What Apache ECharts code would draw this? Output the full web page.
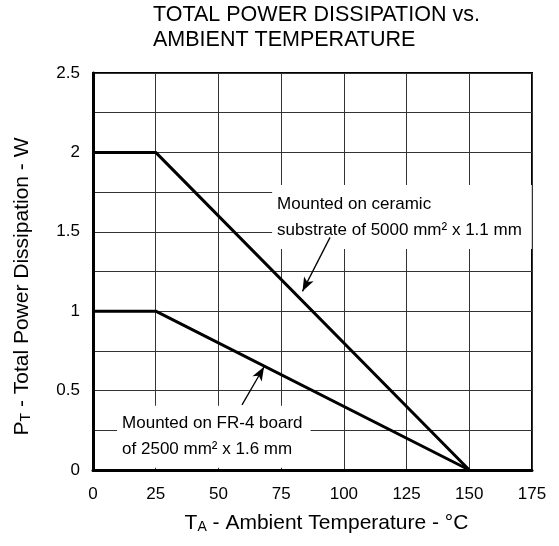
<!DOCTYPE html>
<html>
<head>
<meta charset="utf-8">
<script src="https://cdn.jsdelivr.net/npm/echarts@6/dist/echarts.min.js"></script>
<style>
html,body{margin:0;padding:0;background:#fff;}
#chart{width:559px;height:546px;}
</style>
</head>
<body>
<div id="chart"></div>
<script>
// ---- data ----
const temps = [0, 25, 150];
const ceramicPower = [2, 2, 0];
const fr4Power = [1, 1, 0];
const xTickValues = [0, 25, 50, 75, 100, 125, 150, 175];
const yTickLabels = ['0', '0.5', '1', '1.5', '2', '2.5'];

const titleLines = ['TOTAL POWER DISSIPATION vs.', 'AMBIENT TEMPERATURE'];
const ceramicNote = ['Mounted on ceramic', 'substrate of 5000 mm² x 1.1 mm'];
const fr4Note = ['Mounted on FR-4 board', 'of 2500 mm² x 1.6 mm'];

// annotation anchors (data units)
const ceramicNoteAt = [71.4, 1.593];
const fr4NoteAt = [9.6, 0.21];
const ceramicArrow = [[94.5, 1.465], [83.5, 1.125]];
const fr4Arrow = [[59.4, 0.41], [68.2, 0.65]];

const FONT = '"Liberation Sans", Arial, Helvetica, sans-serif';

const chart = echarts.init(document.getElementById('chart'), null, {renderer: 'canvas'});

function pairs(xs, ys) { return xs.map((x, i) => [x, ys[i]]); }

const noteLabel = (lines, pad) => ({
  show: true,
  position: [0, 0],
  align: 'left',
  verticalAlign: 'middle',
  formatter: lines.join('\n'),
  fontFamily: FONT,
  fontSize: 17,
  lineHeight: 26,
  color: '#000',
  backgroundColor: '#fff',
  padding: pad
});

const option = {
  backgroundColor: '#fff',
  animation: false,
  title: {
    text: titleLines.join('\n'),
    left: 153,
    top: 3,
    padding: 0,
    textStyle: {fontFamily: FONT, fontSize: 21.5, lineHeight: 25, fontWeight: 'normal', color: '#000'}
  },
  grid: {
    left: 93, right: 27, top: 73, bottom: 76,
    show: true, borderColor: '#000', borderWidth: 2, backgroundColor: 'transparent'
  },
  xAxis: {
    type: 'value', min: 0, max: 175, interval: 25,
    name: 'T{sub|A} - Ambient Temperature - °C',
    nameLocation: 'middle', nameGap: 43,
    nameTextStyle: {fontFamily: FONT, fontSize: 21, color: '#000', padding: [0, 0, 0, 28],
      rich: {sub: {fontFamily: FONT, fontSize: 14, verticalAlign: 'bottom', color: '#000'}}},
    axisLine: {show: true, lineStyle: {color: '#000', width: 3}},
    axisTick: {show: false},
    axisLabel: {fontFamily: FONT, fontSize: 17, color: '#000', margin: 16,
      formatter: v => xTickValues.includes(v) ? String(v) : ''},
    splitLine: {show: true, lineStyle: {color: '#333', width: 1}}
  },
  yAxis: {
    type: 'value', min: 0, max: 2.5, interval: 0.25,
    name: 'P{sub|T} - Total Power Dissipation - W',
    nameLocation: 'middle', nameGap: 60,
    nameTextStyle: {fontFamily: FONT, fontSize: 21, color: '#000', padding: [0, 30, 0, 0],
      rich: {sub: {fontFamily: FONT, fontSize: 14, verticalAlign: 'bottom', color: '#000'}}},
    axisLine: {show: true, lineStyle: {color: '#000', width: 3}},
    axisTick: {show: false},
    axisLabel: {fontFamily: FONT, fontSize: 17, color: '#000', margin: 13,
      formatter: v => {
        const i = Math.round(v * 2);
        return Math.abs(v * 2 - i) < 1e-6 ? yTickLabels[i] : '';
      }},
    splitLine: {show: true, lineStyle: {color: '#333', width: 1}}
  },
  series: [
    {
      name: 'ceramic', type: 'line', data: pairs(temps, ceramicPower),
      symbol: 'none', lineStyle: {color: '#000', width: 3}, z: 5,
      markPoint: {
        symbol: 'circle', symbolSize: 0, z: 6,
        data: [{coord: ceramicNoteAt, label: noteLabel(ceramicNote, [8, 10, 4, 5])}]
      },
      markLine: {
        silent: true, z: 10, symbol: ['none', 'arrow'], symbolSize: [8, 14],
        label: {show: false},
        lineStyle: {color: '#000', width: 1.3, type: 'solid'},
        data: [[{coord: ceramicArrow[0]}, {coord: ceramicArrow[1]}]]
      }
    },
    {
      name: 'fr4', type: 'line', data: pairs(temps, fr4Power),
      symbol: 'none', lineStyle: {color: '#000', width: 3}, z: 5,
      markPoint: {
        symbol: 'circle', symbolSize: 0, z: 6,
        data: [{coord: fr4NoteAt, label: noteLabel(fr4Note, [4, 8, 6, 5])}]
      },
      markLine: {
        silent: true, z: 10, symbol: ['none', 'arrow'], symbolSize: [8, 14],
        label: {show: false},
        lineStyle: {color: '#000', width: 1.3, type: 'solid'},
        data: [[{coord: fr4Arrow[0]}, {coord: fr4Arrow[1]}]]
      }
    }
  ]
};
chart.setOption(option);
</script>
</body>
</html>
